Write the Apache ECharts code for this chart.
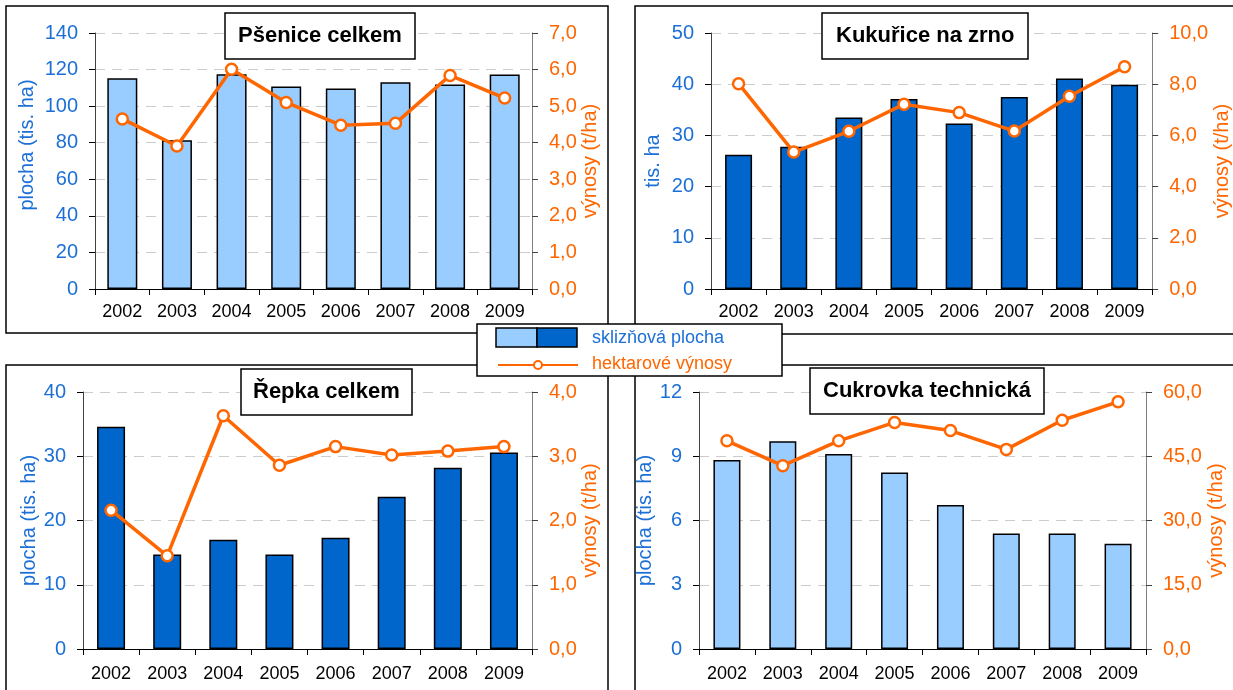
<!DOCTYPE html>
<html lang="cs">
<head>
    <meta charset="UTF-8">
    <title>Plodiny 2002-2009</title>
    <script src="https://cdn.jsdelivr.net/npm/echarts@6/dist/echarts.min.js"></script>
    <style>
        html, body {margin: 0; padding: 0; background: #fff;}
        #main {width: 1233px; height: 690px;}
    </style>
</head>
<body>
<div id="main"></div>
<script>
    var years = ['2002', '2003', '2004', '2005', '2006', '2007', '2008', '2009'];

    // sklizňová plocha (tis. ha)
    var psenicePlocha = [115.2, 81.3, 117.5, 110.8, 109.7, 113.0, 111.9, 117.3];
    var kukuricePlocha = [26.2, 27.8, 33.5, 37.1, 32.3, 37.5, 41.1, 39.9];
    var repkaPlocha = [34.6, 14.7, 17.0, 14.7, 17.3, 23.7, 28.2, 30.6];
    var cukrovkaPlocha = [8.83, 9.70, 9.11, 8.24, 6.72, 5.39, 5.39, 4.91];

    // hektarové výnosy (t/ha)
    var pseniceVynosy = [4.65, 3.91, 6.01, 5.10, 4.48, 4.53, 5.84, 5.22];
    var kukuriceVynosy = [8.02, 5.35, 6.16, 7.22, 6.89, 6.17, 7.53, 8.68];
    var repkaVynosy = [2.16, 1.45, 3.63, 2.86, 3.15, 3.02, 3.08, 3.15];
    var cukrovkaVynosy = [48.6, 42.8, 48.6, 52.9, 51.0, 46.6, 53.4, 57.7];

    var titles = ['Pšenice celkem', 'Kukuřice na zrno', 'Řepka celkem', 'Cukrovka technická'];
    var leftNames = ['plocha (tis. ha)', 'tis. ha', 'plocha (tis. ha)', 'plocha (tis. ha)'];
    var leftMax = [140, 50, 40, 12];
    var leftStep = [20, 10, 10, 3];
    var rightMax = [7, 10, 4, 60];
    var rightStep = [1, 2, 1, 15];

    var FONT = 'Liberation Sans, Arial, sans-serif';
    var BLUE_TXT = '#1B6FD6';
    var ORANGE = '#FF6600';
    var LIGHT = '#99CCFF';
    var DARK = '#0066CC';

    var panels = [
        {plocha: psenicePlocha, vynosy: pseniceVynosy, bar: LIGHT, barWidth: 30,
            grid: {left: 95, top: 33, width: 437, height: 256},
            title: {left: 225, top: 13, padH: 13}, lGap: 58, lPad: [0, 0, 0, 32], rGap: 47, xMargin: 14,
            box: [6, 6, 602, 327]},
        {plocha: kukuricePlocha, vynosy: kukuriceVynosy, bar: DARK, barWidth: 27,
            grid: {left: 711, top: 33, width: 446, height: 256},
            title: {left: 822, top: 13, padH: 14}, lGap: 48, lPad: 0, rGap: 51, xMargin: 14,
            box: [635, 6, 640, 328]},
        {plocha: repkaPlocha, vynosy: repkaVynosy, bar: DARK, barWidth: 28,
            grid: {left: 83, top: 392, width: 449, height: 257},
            title: {left: 241, top: 369, padH: 12}, lGap: 44, lPad: 0, rGap: 45, xMargin: 16,
            box: [6, 365, 602, 400]},
        {plocha: cukrovkaPlocha, vynosy: cukrovkaVynosy, bar: LIGHT, barWidth: 27,
            grid: {left: 699, top: 392, width: 447, height: 257},
            title: {left: 810, top: 368, padH: 13}, lGap: 33, lPad: 0, rGap: 60, xMargin: 16,
            box: [635, 365, 640, 400]}
    ];

    var option = {
        animation: false,
        backgroundColor: '#fff',
        textStyle: {fontFamily: FONT},
        title: [], grid: [], xAxis: [], yAxis: [], series: [], graphic: []
    };

    panels.forEach(function (p, i) {
        option.title.push({
            text: titles[i],
            left: p.title.left,
            top: p.title.top,
            padding: [12, p.title.padH, 12, p.title.padH],
            borderColor: '#000',
            borderWidth: 1.5,
            backgroundColor: '#fff',
            textStyle: {fontFamily: FONT, fontSize: 22, fontWeight: 'bold', color: '#000'},
            z: 10
        });
        option.grid.push(p.grid);
        option.xAxis.push({
            type: 'category',
            gridIndex: i,
            data: years,
            axisLine: {lineStyle: {color: '#000', width: 1}},
            axisTick: {show: true, length: 6, lineStyle: {color: '#000'}},
            axisLabel: {color: '#000', fontSize: 18, fontFamily: FONT, margin: p.xMargin}
        });
        // levá osa - plocha
        option.yAxis.push({
            type: 'value',
            gridIndex: i,
            min: 0,
            max: leftMax[i],
            interval: leftStep[i],
            name: leftNames[i],
            nameLocation: 'middle',
            nameGap: p.lGap,
            nameRotate: 90,
            nameTextStyle: {color: BLUE_TXT, fontSize: 20, fontFamily: FONT, padding: p.lPad},
            axisLine: {show: true, lineStyle: {color: '#404040'}},
            axisTick: {show: true, length: 6, lineStyle: {color: '#000'}},
            axisLabel: {color: BLUE_TXT, fontSize: 20, fontFamily: FONT, margin: 17},
            splitLine: {show: true, lineStyle: {color: '#CCCCCC', type: [10, 7], width: 1}}
        });
        // pravá osa - výnosy
        option.yAxis.push({
            type: 'value',
            gridIndex: i,
            position: 'right',
            min: 0,
            max: rightMax[i],
            interval: rightStep[i],
            name: 'výnosy (t/ha)',
            nameLocation: 'middle',
            nameGap: p.rGap,
            nameRotate: 90,
            nameTextStyle: {color: ORANGE, fontSize: 20, fontFamily: FONT},
            axisLine: {show: true, lineStyle: {color: '#808080'}},
            axisTick: {show: true, length: 6, lineStyle: {color: '#404040'}},
            axisLabel: {
                color: ORANGE, fontSize: 20, fontFamily: FONT, margin: 17,
                formatter: function (v) {
                    return v.toFixed(1).replace('.', ',');
                }
            },
            splitLine: {show: false}
        });
        option.series.push({
            name: 'sklizňová plocha',
            type: 'bar',
            xAxisIndex: i,
            yAxisIndex: i * 2,
            data: p.plocha,
            barWidth: p.barWidth,
            itemStyle: {color: p.bar, borderColor: '#000', borderWidth: 1.5}
        });
        option.series.push({
            name: 'hektarové výnosy',
            type: 'line',
            xAxisIndex: i,
            yAxisIndex: i * 2 + 1,
            data: p.vynosy,
            symbol: 'circle',
            symbolSize: 11,
            lineStyle: {color: ORANGE, width: 3.5},
            itemStyle: {color: '#fff', borderColor: ORANGE, borderWidth: 2.5},
            z: 5
        });
        // rámeček panelu
        option.graphic.push({
            type: 'rect',
            shape: {x: p.box[0], y: p.box[1], width: p.box[2], height: p.box[3]},
            style: {fill: null, stroke: '#000', lineWidth: 1.5},
            silent: true,
            z: 1
        });
    });

    // společná legenda uprostřed
    option.graphic.push(
        {type: 'rect', z: 100, shape: {x: 477, y: 324, width: 305, height: 52},
            style: {fill: '#fff', stroke: '#000', lineWidth: 1.5}},
        {type: 'rect', z: 101, shape: {x: 496, y: 328, width: 41, height: 19},
            style: {fill: LIGHT, stroke: '#000', lineWidth: 1.5}},
        {type: 'rect', z: 101, shape: {x: 537, y: 328, width: 40, height: 19},
            style: {fill: DARK, stroke: '#000', lineWidth: 1.5}},
        {type: 'line', z: 101, shape: {x1: 498, y1: 365, x2: 578, y2: 365},
            style: {stroke: ORANGE, lineWidth: 2}},
        {type: 'circle', z: 102, shape: {cx: 538, cy: 365, r: 4},
            style: {fill: '#fff', stroke: ORANGE, lineWidth: 2}},
        {type: 'text', z: 101, x: 592, y: 338,
            style: {text: 'sklizňová plocha', fill: BLUE_TXT, font: '18px ' + FONT, verticalAlign: 'middle'}},
        {type: 'text', z: 101, x: 592, y: 364,
            style: {text: 'hektarové výnosy', fill: ORANGE, font: '18px ' + FONT, verticalAlign: 'middle'}}
    );

    var chart = echarts.init(document.getElementById('main'));
    chart.setOption(option);
</script>
</body>
</html>
